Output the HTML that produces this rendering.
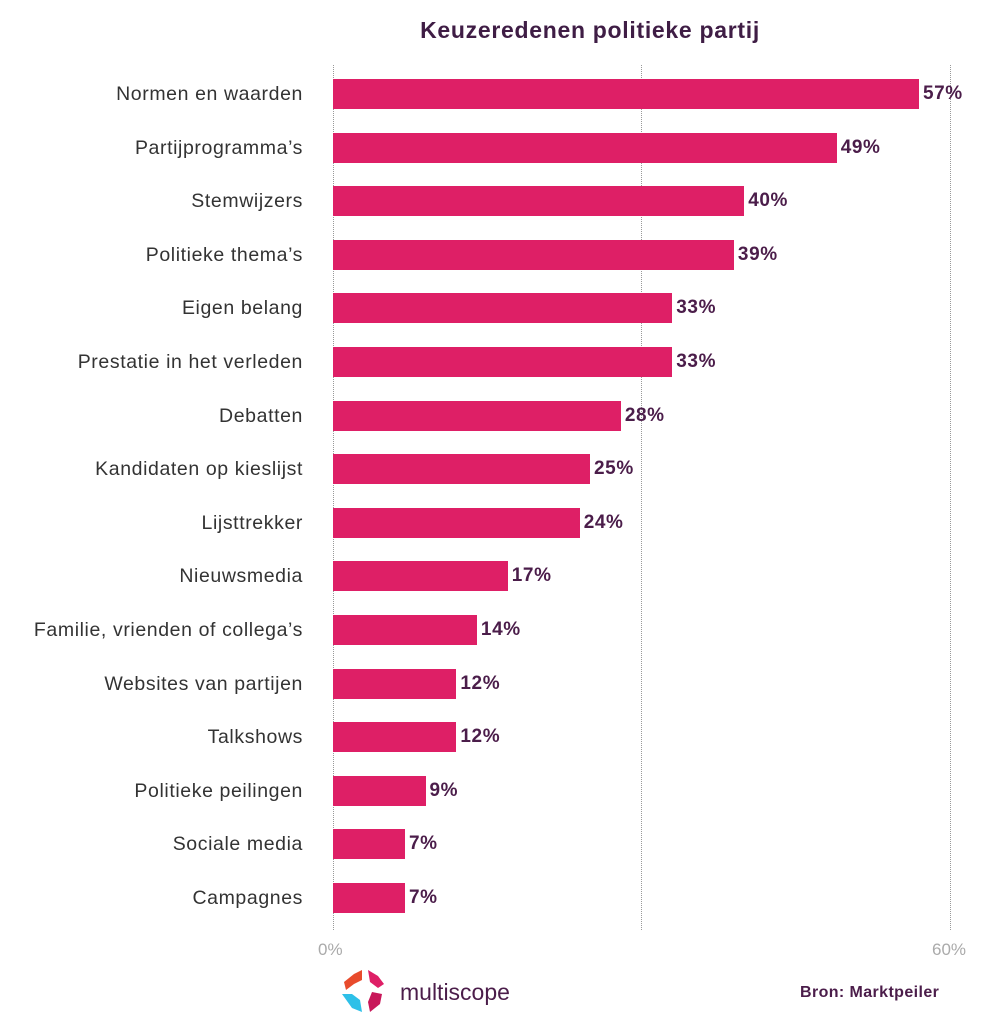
<!DOCTYPE html>
<html><head><meta charset="utf-8"><style>
body{margin:0;width:1000px;height:1024px;background:#fff;font-family:"Liberation Sans",sans-serif;position:relative;overflow:hidden}
.t{position:absolute;left:390px;width:400px;top:17px;text-align:center;font-weight:bold;font-size:23px;letter-spacing:0.7px;color:#3f1d45}
.g{position:absolute;top:65px;height:865px;border-left:1.5px dotted #999}
.l{position:absolute;right:697px;font-size:19.5px;letter-spacing:0.6px;color:#333;white-space:nowrap;line-height:30px}
.b{position:absolute;left:333px;height:30px;background:#de1f66}
.v{position:absolute;font-weight:bold;font-size:19px;letter-spacing:0.6px;color:#4b1d4a;line-height:30px}
.ax{position:absolute;top:940px;font-size:17px;color:#aaa}
</style></head><body>
<div class="t">Keuzeredenen politieke partij</div>
<div class="g" style="left:333px"></div><div class="g" style="left:641px"></div><div class="g" style="left:950px"></div>
<div id="c"></div>
<div class="ax" style="left:318px">0%</div><div class="ax" style="left:932px">60%</div>
<svg style="position:absolute;left:340px;top:968px" width="48" height="46" viewBox="0 0 48 46">
<path d="M4 14 L14 6 L22 2 L22 12 L14 16 L6 22 Z" fill="#e84b2c"/>
<path d="M28 2 L38 8 L44 16 L38 20 L30 14 Z" fill="#de1f66"/>
<path d="M32 24 L42 26 L40 36 L30 44 L28 34 Z" fill="#c8185a"/>
<path d="M2 26 L12 26 L20 32 L22 44 L12 40 Z" fill="#2ec0e8"/>
</svg>
<div style="position:absolute;left:400px;top:979px;font-size:23px;color:#4b1d4a">multiscope</div>
<div style="position:absolute;left:800px;top:984px;font-size:16px;letter-spacing:0.4px;font-weight:bold;color:#4b1d4a">Bron: Marktpeiler</div>
<script>
var d=[["Normen en waarden",57],["Partijprogramma’s",49],["Stemwijzers",40],["Politieke thema’s",39],["Eigen belang",33],["Prestatie in het verleden",33],["Debatten",28],["Kandidaten op kieslijst",25],["Lijsttrekker",24],["Nieuwsmedia",17],["Familie, vrienden of collega’s",14],["Websites van partijen",12],["Talkshows",12],["Politieke peilingen",9],["Sociale media",7],["Campagnes",7]];
var h="";d.forEach(function(r,i){var y=79+i*53.6,w=r[1]*10.28;
h+='<div class="l" style="top:'+y+'px">'+r[0]+'</div><div class="b" style="top:'+y+'px;width:'+w+'px"></div><div class="v" style="top:'+y+'px;left:'+(337+w)+'px">'+r[1]+'%</div>';});
document.getElementById("c").innerHTML=h;
</script>
</body></html>
